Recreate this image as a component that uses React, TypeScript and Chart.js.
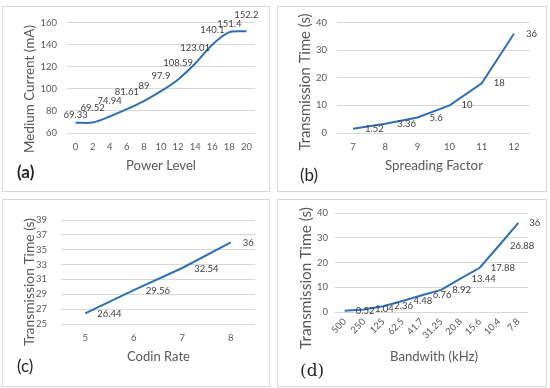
import { useEffect, useRef } from "react";
import { Chart, registerables } from "chart.js";

Chart.register(...registerables);

// ---------- data ----------
const powerLevels = ["0", "2", "4", "6", "8", "10", "12", "14", "16", "18", "20"];
const mediumCurrent = [69.33, 69.52, 74.94, 81.61, 89, 97.9, 108.59, 123.01, 140.1, 151.4, 152.2];

const spreadingFactors = ["7", "8", "9", "10", "11", "12"];
const sfTime = [1.52, 3.36, 5.6, 10, 18, 36];

const codingRates = ["5", "6", "7", "8"];
const crTime = [26.44, 29.56, 32.54, 36];

const bandwidths = ["500", "250", "125", "62.5", "41.7", "31.25", "20.8", "15.6", "10.4", "7.8"];
const bwTime = [0.52, 1.04, 2.36, 4.48, 6.76, 8.92, 13.44, 17.88, 26.88, 36];

// ---------- styles ----------
const FONT = "Lato, 'Open Sans', sans-serif";
const LINE = "#2e6fb7";
const GRID = "#d9d9d9";
const TXT = "#595959";
const LBL = "#404040";

const valueLabels = {
  id: "valueLabels",
  afterDatasetsDraw(chart: any, _a: any, opts: any) {
    const ctx = chart.ctx;
    const meta = chart.getDatasetMeta(0);
    const data = chart.data.datasets[0].data;
    ctx.save();
    ctx.font = `${opts.size}px ${FONT}`;
    ctx.fillStyle = LBL;
    meta.data.forEach((pt: any, i: number) => {
      const t = String(data[i]);
      if (opts.position === "above") {
        const lift = opts.lift ? opts.lift[i] : 12;
        ctx.textAlign = "center";
        ctx.textBaseline = "middle";
        ctx.fillText(t, pt.x, pt.y - lift);
      } else {
        ctx.textAlign = "left";
        ctx.textBaseline = "middle";
        ctx.fillText(t, pt.x + opts.dx, pt.y + (opts.dy || 0));
      }
    });
    ctx.restore();
  },
};

// axis titles and panel letter, fitted to the widths seen in the reference
const panelText = {
  id: "panelText",
  afterDraw(chart: any, _a: any, opts: any) {
    const ctx = chart.ctx;
    const fitted = (text: string, w: number) => {
      ctx.font = `15px ${FONT}`;
      const m = ctx.measureText(text).width;
      return `${(15 * w) / m}px ${FONT}`;
    };
    ctx.save();
    ctx.fillStyle = TXT;
    ctx.textAlign = "center";
    ctx.textBaseline = "middle";
    const xt = opts.xTitle;
    ctx.font = fitted(xt.text, xt.w);
    ctx.fillText(xt.text, xt.cx, xt.cy);
    const yt = opts.yTitle;
    ctx.font = fitted(yt.text, yt.w);
    ctx.save();
    ctx.translate(yt.cx, yt.cy);
    ctx.rotate(-Math.PI / 2);
    ctx.fillText(yt.text, 0, 0);
    ctx.restore();
    const lt = opts.letter;
    ctx.font = lt.font;
    ctx.fillStyle = "#262626";
    ctx.textAlign = "left";
    ctx.fillText(lt.text, lt.x, lt.y);
    ctx.restore();
  },
};

type PanelProps = {
  left: number;
  top: number;
  w: number;
  h: number;
  labels: string[];
  values: number[];
  yMin: number;
  yMax: number;
  yStep: number;
  area: { l: number; r: number; t: number; b: number };
  yTickPad: number;
  xTickPad: number;
  tension: number;
  rotate?: boolean;
  labelOpts: any;
  text: any;
};

function Panel(p: PanelProps) {
  const ref = useRef<HTMLCanvasElement>(null);
  useEffect(() => {
    const chart = new Chart(ref.current!, {
      type: "line",
      data: {
        labels: p.labels,
        datasets: [
          {
            data: p.values,
            borderColor: LINE,
            borderWidth: 2,
            pointRadius: 0,
            tension: p.tension,
            fill: false,
          },
        ],
      },
      options: {
        responsive: false,
        animation: false,
        devicePixelRatio: 1,
        layout: { padding: { left: 0, top: p.area.t, right: p.w - p.area.r, bottom: 0 } },
        plugins: {
          legend: { display: false },
          tooltip: { enabled: false },
          valueLabels: p.labelOpts,
          panelText: p.text,
        } as any,
        scales: {
          x: {
            type: "category",
            offset: true,
            grid: { display: false, drawTicks: false },
            border: { display: false },
            ticks: {
              color: TXT,
              font: { family: FONT, size: 9.5 },
              padding: p.xTickPad,
              autoSkip: false,
              maxRotation: p.rotate ? 45 : 0,
              minRotation: p.rotate ? 45 : 0,
            },
            afterFit: (s: any) => {
              s.height = p.h - p.area.b;
            },
          },
          y: {
            min: p.yMin,
            max: p.yMax,
            grid: { color: GRID, lineWidth: 1, drawTicks: false },
            border: { display: false },
            ticks: {
              stepSize: p.yStep,
              color: TXT,
              font: { family: FONT, size: 9.5 },
              padding: p.yTickPad,
            },
            afterFit: (s: any) => {
              s.width = p.area.l;
            },
          },
        },
      },
      plugins: [valueLabels, panelText],
    });
    return () => chart.destroy();
  }, []);
  return (
    <div
      style={{
        position: "absolute",
        left: p.left,
        top: p.top,
        border: `1px solid ${GRID}`,
        width: p.w,
        height: p.h,
        background: "#fff",
      }}
    >
      <canvas ref={ref} width={p.w} height={p.h} style={{ display: "block", width: p.w, height: p.h }} />
    </div>
  );
}

export default function App() {
  return (
    <div style={{ position: "fixed", left: 0, top: 0, width: 550, height: 388, background: "#fff" }}>
      <Panel
        left={2}
        top={6}
        w={266}
        h={184}
        labels={powerLevels}
        values={mediumCurrent}
        yMin={60}
        yMax={160}
        yStep={20}
        area={{ l: 64, r: 252, t: 14, b: 126 }}
        yTickPad={10}
        xTickPad={8}
        tension={0.3}
        labelOpts={{ position: "above", size: 9.5, lift: [7.5, 15, 16, 17, 15, 15, 16, 16, 15, 8, 16] }}
        text={{
          xTitle: { text: "Power Level", cx: 158, cy: 159, w: 70 },
          yTitle: { text: "Medium Current (mA)", cx: 27, cy: 82, w: 128 },
          letter: { text: "(a)", x: 14, y: 166, font: `bold 17px ${FONT}` },
        }}
      />
      <Panel
        left={277}
        top={6}
        w={268}
        h={184}
        labels={spreadingFactors}
        values={sfTime}
        yMin={0}
        yMax={40}
        yStep={5}
        area={{ l: 59, r: 252, t: 14, b: 126 }}
        yTickPad={10}
        xTickPad={8}
        tension={0}
        labelOpts={{ position: "right", size: 9.5, dx: 12, dy: 0 }}
        text={{
          xTitle: { text: "Spreading Factor", cx: 156, cy: 159, w: 98 },
          yTitle: { text: "Transmission Time (s)", cx: 27, cy: 75, w: 137 },
          letter: { text: "(b)", x: 22, y: 169, font: `17px ${FONT}` },
        }}
      />
      <Panel
        left={2}
        top={199}
        w={266}
        h={186}
        labels={codingRates}
        values={crTime}
        yMin={25}
        yMax={39}
        yStep={2}
        area={{ l: 58, r: 252, t: 20, b: 124 }}
        yTickPad={14}
        xTickPad={8}
        tension={0}
        labelOpts={{ position: "right", size: 9.5, dx: 12, dy: 1 }}
        text={{
          xTitle: { text: "Codin Rate", cx: 155.5, cy: 157, w: 63 },
          yTitle: { text: "Transmission Time (s)", cx: 27, cy: 82, w: 128 },
          letter: { text: "(c)", x: 14, y: 167, font: `17px ${FONT}` },
        }}
      />
      <Panel
        left={277}
        top={199}
        w={268}
        h={186}
        labels={bandwidths}
        values={bwTime}
        yMin={0}
        yMax={40}
        yStep={5}
        area={{ l: 57, r: 250, t: 13, b: 112 }}
        yTickPad={7}
        xTickPad={4}
        tension={0}
        rotate
        labelOpts={{ position: "right", size: 9.5, dx: 11, dy: 0 }}
        text={{
          xTitle: { text: "Bandwith (kHz)", cx: 156, cy: 157, w: 88 },
          yTitle: { text: "Transmission Time (s)", cx: 28, cy: 78, w: 142 },
          letter: { text: "(d)", x: 22, y: 172, font: `17px 'DejaVu Serif', serif` },
        }}
      />
    </div>
  );
}
